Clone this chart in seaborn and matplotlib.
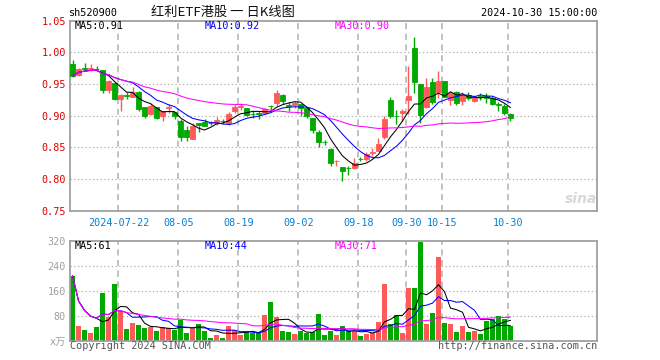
import numpy as np
import pandas as pd
import matplotlib
matplotlib.use("Agg")
import matplotlib.pyplot as plt
import seaborn as sns

# chart texts
code = "sh520900"
title = "红利ETF港股 一 日K线图"
stamp = "2024-10-30 15:00:00"
price_ma_text = ["MA5:0.91", "MA10:0.92", "MA30:0.90"]
vol_ma_text = ["MA5:61", "MA10:44", "MA30:71"]
label_dates = ["2024-07-22", "2024-08-05", "2024-08-19", "2024-09-02",
               "2024-09-18", "2024-09-30", "2024-10-15", "2024-10-30"]
label_text = ["2024-07-22", "08-05", "08-19", "09-02", "09-18", "09-30", "10-15", "10-30"]
price_ticks = [0.75, 0.80, 0.85, 0.90, 0.95, 1.00, 1.05]
vol_ticks = [0, 80, 160, 240, 320]
vol_tick_text = ["x万", "80", "160", "240", "320"]

# trading days (exchange holidays removed)
holidays = ["2024-09-16", "2024-09-17", "2024-10-01", "2024-10-02",
            "2024-10-03", "2024-10-04", "2024-10-07"]
dates = pd.bdate_range("2024-07-10", "2024-10-30", freq="C", holidays=holidays)

# daily OHLC
opens = [0.982, 0.964, 0.975, 0.973, 0.974, 0.972, 0.941, 0.952, 0.927, 0.932,
         0.930, 0.938, 0.913, 0.902, 0.913, 0.900, 0.912, 0.906, 0.891, 0.878,
         0.864, 0.889, 0.890, 0.889, 0.888, 0.892, 0.888, 0.908, 0.914, 0.912,
         0.903, 0.904, 0.904, 0.916, 0.920, 0.933, 0.917, 0.917, 0.918, 0.912,
         0.896, 0.875, 0.859, 0.848, 0.828, 0.819, 0.818, 0.817, 0.832, 0.831,
         0.841, 0.845, 0.866, 0.925, 0.900, 0.905, 0.925, 1.007, 0.950, 0.913,
         0.953, 0.937, 0.955, 0.925, 0.938, 0.924, 0.933, 0.924, 0.931, 0.931,
         0.928, 0.918, 0.916, 0.903]
highs = [0.988, 0.975, 0.983, 0.981, 0.978, 0.972, 0.957, 0.953, 0.934, 0.938,
         0.946, 0.939, 0.914, 0.920, 0.914, 0.908, 0.918, 0.906, 0.895, 0.883,
         0.888, 0.889, 0.895, 0.892, 0.898, 0.895, 0.906, 0.918, 0.920, 0.912,
         0.907, 0.907, 0.912, 0.917, 0.941, 0.934, 0.922, 0.924, 0.919, 0.914,
         0.897, 0.878, 0.862, 0.849, 0.830, 0.819, 0.821, 0.833, 0.835, 0.843,
         0.849, 0.865, 0.900, 0.929, 0.909, 0.910, 0.979, 1.025, 0.950, 0.960,
         0.960, 0.970, 0.955, 0.938, 0.939, 0.938, 0.938, 0.933, 0.936, 0.936,
         0.931, 0.922, 0.919, 0.904]
lows = [0.961, 0.963, 0.970, 0.970, 0.970, 0.936, 0.936, 0.925, 0.907, 0.927,
        0.930, 0.907, 0.896, 0.901, 0.895, 0.891, 0.904, 0.895, 0.860, 0.860,
        0.863, 0.875, 0.883, 0.885, 0.885, 0.887, 0.886, 0.905, 0.909, 0.899,
        0.896, 0.895, 0.902, 0.909, 0.916, 0.919, 0.908, 0.912, 0.899, 0.897,
        0.872, 0.851, 0.854, 0.821, 0.821, 0.797, 0.807, 0.816, 0.828, 0.828,
        0.837, 0.844, 0.863, 0.896, 0.887, 0.892, 0.903, 0.936, 0.889, 0.912,
        0.919, 0.928, 0.929, 0.917, 0.917, 0.917, 0.925, 0.922, 0.925, 0.920,
        0.917, 0.908, 0.901, 0.891]
closes = [0.963, 0.974, 0.974, 0.975, 0.973, 0.940, 0.955, 0.927, 0.933, 0.931,
          0.938, 0.910, 0.900, 0.916, 0.897, 0.907, 0.913, 0.899, 0.867, 0.866,
          0.884, 0.886, 0.884, 0.888, 0.893, 0.891, 0.903, 0.913, 0.915, 0.901,
          0.902, 0.903, 0.910, 0.915, 0.936, 0.923, 0.916, 0.920, 0.912, 0.899,
          0.878, 0.858, 0.858, 0.825, 0.829, 0.813, 0.817, 0.825, 0.831, 0.840,
          0.842, 0.856, 0.895, 0.900, 0.899, 0.908, 0.931, 0.954, 0.901, 0.946,
          0.922, 0.955, 0.930, 0.936, 0.920, 0.932, 0.928, 0.930, 0.930, 0.928,
          0.919, 0.917, 0.904, 0.896]
# volume, x10k
volumes = [208, 46, 35, 24, 43, 153, 74, 181, 95, 37,
           57, 50, 40, 42, 31, 42, 40, 34, 67, 24,
           40, 53, 31, 9, 19, 9, 46, 33, 18, 27,
           23, 25, 83, 123, 75, 31, 28, 21, 31, 24,
           26, 85, 18, 31, 18, 46, 31, 31, 14, 21,
           23, 60, 182, 53, 82, 25, 169, 169, 317, 53,
           87, 269, 57, 53, 28, 46, 28, 31, 21, 63,
           68, 78, 68, 46]

RED = "#ff5a5a"
GREEN = "#00a800"
MA_COLORS = {5: "black", 10: "#0000ff", 30: "#ff00ff"}
MONO = "DejaVu Sans Mono"
GRID = "#b0b0b0"

df = pd.DataFrame({"date": dates, "open": opens, "high": highs, "low": lows,
                   "close": closes, "volume": volumes})
df["x"] = np.arange(len(df))
df["color"] = np.where(df["close"] >= df["open"], RED, GREEN)
for n in MA_COLORS:
    df[f"ma{n}"] = df["close"].rolling(n, min_periods=1).mean()
    df[f"vma{n}"] = df["volume"].rolling(n, min_periods=1).mean()

pos = {d.strftime("%Y-%m-%d"): i for i, d in enumerate(df["date"])}
grid_x = [pos[d] - 0.36 for d in label_dates]

sns.set_style("white")
plt.rcParams["font.family"] = [MONO, "Noto Sans CJK SC"]

W, H = 660, 360
fig = plt.figure(figsize=(6.6, 3.6), dpi=100)
ax = fig.add_axes([70 / W, 1 - 210.7 / H, 527 / W, 190 / H])
ax2 = fig.add_axes([70 / W, 1 - 340.5 / H, 527 / W, 99.8 / H])

# --- price panel
for y in price_ticks[1:-1]:
    ax.axhline(y, color=GRID, lw=0.9, ls=(0, (1, 2)), zorder=1)
for gx in grid_x:
    ax.axvline(gx, color=GRID, lw=1.1, ls=(0, (4, 3)), zorder=1)

ax.vlines(df["x"], df["low"], df["high"], colors=df["color"], lw=1, zorder=2)
ax.bar(df["x"], (df["close"] - df["open"]).abs(),
       bottom=df[["open", "close"]].min(axis=1), width=0.72,
       color=df["color"], edgecolor=df["color"], linewidth=0.6, zorder=3)
for n, c in MA_COLORS.items():
    sns.lineplot(data=df, x="x", y=f"ma{n}", color=c, lw=0.75, ax=ax, zorder=4)

ax.set_xlim(-0.42, 87.42)
ax.set_ylim(0.75, 1.05)
ax.set_yticks(price_ticks)
ax.set_yticklabels([f"{t:.2f}" for t in price_ticks], color="#e00000", fontsize=7.3)
ax.set_xticks(grid_x)
ax.set_xticklabels(label_text, color="#0a7fd0", fontsize=7.3)
ax.tick_params(length=0, pad=3)
ax.tick_params(axis="x", pad=5)
ax.set_xlabel("")
ax.set_ylabel("")

# --- volume panel
for y in vol_ticks[1:-1]:
    ax2.axhline(y, color=GRID, lw=0.9, ls=(0, (1, 2)), zorder=1)
for gx in grid_x:
    ax2.axvline(gx, color=GRID, lw=1.1, ls=(0, (4, 3)), zorder=1)
ax2.bar(df["x"], df["volume"], width=0.8, color=df["color"], linewidth=0, zorder=2)
for n, c in MA_COLORS.items():
    sns.lineplot(data=df, x="x", y=f"vma{n}", color=c, lw=0.75, ax=ax2, zorder=4)
ax2.set_xlim(-0.42, 87.42)
ax2.set_ylim(0, 320)
ax2.set_yticks(vol_ticks)
ax2.set_yticklabels(vol_tick_text, color="#a0a0a0", fontsize=7.3)
ax2.set_xticks([])
ax2.tick_params(length=0, pad=3)
ax2.set_xlabel("")
ax2.set_ylabel("")

for a in (ax, ax2):
    for s in a.spines.values():
        s.set_color("#a0a0a0")
        s.set_linewidth(1.3)

# --- texts
def put(x, y, s, **kw):
    kw.setdefault("fontsize", 7.3)
    kw.setdefault("va", "center")
    fig.text(x / W, 1 - y / H, s, **kw)

put(69, 13, code, color="black")
put(223, 12.5, title, ha="center", fontsize=9.5, color="#111111",
    family=["Noto Sans CJK SC", MONO])
put(597, 13, stamp, ha="right", color="black")
for xp, s, c in zip([75, 205, 335], price_ma_text, MA_COLORS.values()):
    put(xp, 26, s, color=c)
for xp, s, c in zip([75, 205, 335], vol_ma_text, MA_COLORS.values()):
    put(xp, 246, s, color=c)
put(70, 346, "Copyright 2024 SINA.COM", color="#555555")
put(597, 346, "http://finance.sina.com.cn", ha="right", color="#555555")
put(597, 199, "sina", ha="right", fontsize=10, color="#d8d8d8",
    family="DejaVu Sans", weight="bold", style="italic")

fig.savefig("out.png", dpi=100, facecolor="white")
